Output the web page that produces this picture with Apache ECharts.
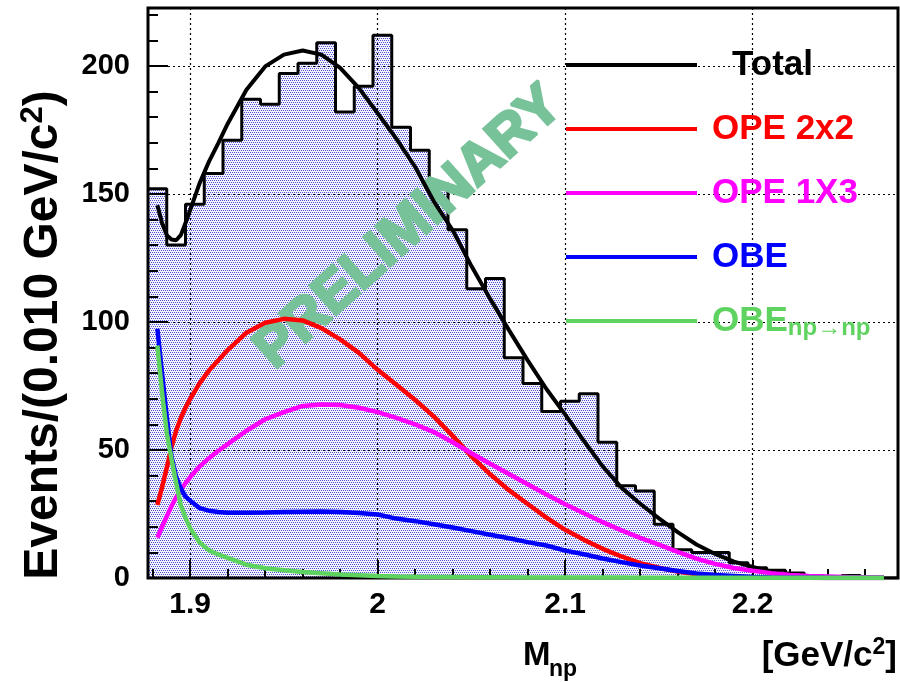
<!DOCTYPE html>
<html>
<head>
<meta charset="utf-8">
<title>M_np spectrum</title>
<script src="https://cdn.jsdelivr.net/npm/echarts@6/dist/echarts.min.js"></script>
<style>
  html, body { margin: 0; padding: 0; background: #ffffff; }
  #chart { width: 900px; height: 682px; }
</style>
</head>
<body>
<div id="chart"></div>
<script>
// Invariant mass M_np, 40 bins of 0.010 GeV/c^2 starting at the np threshold
const massLow = 1.8775;
const binWidth = 0.010;
const eventCounts = [152, 130, 146, 158, 171, 187, 185, 197, 201, 209,
                     182, 192, 212, 176, 167, 154, 136, 113, 117, 86,
                     76, 65, 69, 72, 53, 36, 34, 21, 11, 10,
                     10, 6, 4, 3, 2, 1, 0, 1, 0, 0];

// Model curves sampled in M_np (GeV/c^2)
const curveMass = [1.8825, 1.885, 1.8875, 1.89, 1.8925, 1.895, 1.8975, 1.90, 1.905, 1.91, 1.915, 1.92,
                   1.93, 1.94, 1.95, 1.96, 1.97, 1.98, 1.99, 2.00,
                   2.01, 2.02, 2.03, 2.04, 2.05, 2.06, 2.07, 2.08, 2.09, 2.10,
                   2.11, 2.12, 2.13, 2.14, 2.15, 2.16, 2.17, 2.18, 2.19, 2.20,
                   2.21, 2.22, 2.23, 2.24, 2.25, 2.26, 2.27];
const totalFit = [145.6, 138.6, 133.9, 132.2, 131.9, 133.9, 138.6, 143.7, 154.1, 162.6, 169.8, 177.4,
                  190.7, 199.8, 204.4, 206.0, 204.4, 199.2, 191.3, 181.5,
                  171.5, 160.5, 147.0, 135.8, 121.8, 109.0, 96.8, 85.0, 73.8, 63.8,
                  53.5, 43.6, 35.3, 29.0, 23.3, 17.9, 13.1, 9.4, 6.4, 4.3,
                  2.4, 1.3, 0.7, 0.4, 0.2, 0.1, 0.1];
const ope2x2 = [28.5, 35.5, 43.0, 51.0, 57.5, 62.5, 66.5, 70.0, 76.0, 81.0, 85.0, 89.0,
                95.8, 99.7, 101.2, 100.6, 97.6, 93.2, 87.9, 81.3,
                75.5, 69.5, 63.0, 55.5, 47.5, 40.5, 34.3, 28.9, 23.6, 18.8,
                14.9, 11.4, 8.4, 5.8, 4.0, 2.5, 1.5, 0.8, 0.4, 0.2,
                0.1, 0.1, 0.05, 0, 0, 0, 0];
const ope1x3 = [15.8, 20.0, 24.0, 28.0, 31.5, 34.5, 37.0, 39.4, 43.5, 46.8, 49.7, 52.3,
                57.5, 62.0, 64.8, 67.2, 67.8, 67.6, 66.5, 64.8,
                62.5, 60.0, 57.0, 53.0, 48.7, 44.6, 40.6, 36.6, 32.6, 28.8,
                25.3, 21.8, 18.6, 15.7, 13.0, 10.2, 7.6, 5.5, 3.9, 2.8,
                1.9, 1.2, 0.8, 0.6, 0.4, 0.3, 0.2];
const obe = [97.3, 80.0, 63.0, 47.5, 39.5, 35.0, 31.8, 30.2, 27.3, 26.3, 25.8, 25.5,
             25.5, 25.6, 25.8, 25.9, 26.0, 25.8, 25.4, 24.8,
             23.2, 22.2, 21.0, 19.7, 18.3, 16.9, 15.5, 14.0, 12.7, 10.7,
             9.3, 7.6, 6.2, 4.9, 3.8, 2.7, 1.8, 1.2, 0.8, 0.4,
             0.2, 0.1, 0.1, 0, 0, 0, 0];
const obeNpNp = [90.8, 72.3, 56.8, 46.5, 37.2, 28.4, 23.6, 19.4, 13.9, 10.8, 9.2, 7.9,
                 5.2, 3.8, 3.0, 2.3, 1.9, 1.4, 1.1, 0.8,
                 0.6, 0.5, 0.4, 0.35, 0.3, 0.3, 0.25, 0.2, 0.2, 0.2,
                 0.2, 0.15, 0.15, 0.1, 0.1, 0.1, 0.1, 0.1, 0.1, 0.1,
                 0.1, 0.1, 0.1, 0.1, 0.1, 0.1, 0.1];

// Tick positions
const xMajorTicks = [1.9, 2.0, 2.1, 2.2];
const xMinorTicks = [1.88, 1.92, 1.94, 1.96, 1.98, 2.02, 2.04, 2.06, 2.08,
                     2.12, 2.14, 2.16, 2.18, 2.22, 2.24, 2.26];
const yMajorTicks = [0, 50, 100, 150, 200];
const yMinorTicks = [10, 20, 30, 40, 60, 70, 80, 90, 110, 120, 130, 140,
                     160, 170, 180, 190, 210, 220];
const yMax = 222.6;

const FONT = '"Liberation Sans", Arial, Helvetica, sans-serif';
const massHigh = massLow + eventCounts.length * binWidth;

// Histogram as a stepped outline: each bin's left edge carries its content
const histData = eventCounts.map((c, i) => [massLow + i * binWidth, c]);
histData.push([massHigh, eventCounts[eventCounts.length - 1]]);

function pairUp(values) {
  return curveMass.map((m, i) => [m, values[i]]);
}

// Fine blue dot fill for the histogram body
function dotPattern() {
  const c = document.createElement('canvas');
  c.width = 4; c.height = 4;
  const g = c.getContext('2d');
  g.fillStyle = '#f3f3fc';
  g.fillRect(0, 0, 4, 4);
  g.fillStyle = '#4c4cd8';
  g.fillRect(0, 0, 1, 1);
  g.fillRect(2, 0, 1, 1);
  g.fillRect(1, 2, 1, 1);
  g.fillRect(3, 2, 1, 1);
  return c;
}

const tickStyle = { color: '#000', width: 2 };
const labelStyle = { fontSize: 29, fontWeight: 'bold', fontFamily: FONT, color: '#000' };

const curveSeries = [
  { name: 'Total', data: totalFit, color: '#000000', width: 4 },
  { name: 'OPE 2x2', data: ope2x2, color: '#ff0000', width: 4.5 },
  { name: 'OPE 1X3', data: ope1x3, color: '#ff00ff', width: 4.5 },
  { name: 'OBE', data: obe, color: '#0000ff', width: 4.5 },
  { name: 'OBE np\u2192np', data: obeNpNp, color: '#5fd35f', width: 4.5 }
].map(s => ({
  type: 'line',
  name: s.name,
  data: pairUp(s.data),
  color: s.color,
  symbol: 'none',
  smooth: false,
  z: 4,
  silent: true,
  lineStyle: { color: s.color, width: s.width }
}));

const chart = echarts.init(document.getElementById('chart'), null, { renderer: 'canvas' });

chart.setOption({
  animation: false,
  backgroundColor: '#ffffff',
  grid: {
    left: 148, right: 2, top: 8, bottom: 104,
    show: true, borderColor: '#000', borderWidth: 3,
    backgroundColor: 'transparent', z: 3
  },
  xAxis: [
    {
      type: 'value', min: massLow, max: massHigh, position: 'bottom', z: 2,
      axisLine: { show: false },
      axisTick: { inside: true, length: 18, customValues: xMajorTicks, lineStyle: tickStyle },
      axisLabel: Object.assign({ customValues: xMajorTicks, margin: 12 }, labelStyle, { fontSize: 30 }),
      splitLine: { show: true, lineStyle: { color: '#000', width: 1.2, type: [2, 3] } }
    },
    {
      type: 'value', min: massLow, max: massHigh, position: 'bottom', z: 2,
      axisLine: { show: false },
      axisTick: { inside: true, length: 9, customValues: xMinorTicks, lineStyle: tickStyle },
      axisLabel: { show: false },
      splitLine: { show: false }
    }
  ],
  yAxis: [
    {
      type: 'value', min: 0, max: yMax, position: 'left', z: 2,
      axisLine: { show: false },
      axisTick: { inside: true, length: 20, customValues: yMajorTicks, lineStyle: tickStyle },
      axisLabel: Object.assign({ customValues: yMajorTicks, margin: 18 }, labelStyle),
      splitLine: { show: true, lineStyle: { color: '#000', width: 1.2, type: [2, 3] } }
    },
    {
      type: 'value', min: 0, max: yMax, position: 'left', z: 2,
      axisLine: { show: false },
      axisTick: { inside: true, length: 10, customValues: yMinorTicks, lineStyle: tickStyle },
      axisLabel: { show: false },
      splitLine: { show: false }
    }
  ],
  legend: {
    data: [
      { name: 'Total', textStyle: { color: '#000000' } },
      { name: 'OPE 2x2', textStyle: { color: '#ff0000' } },
      { name: 'OPE 1X3', textStyle: { color: '#ff00ff' } },
      { name: 'OBE', textStyle: { color: '#0000ff' } },
      { name: 'OBE np\u2192np', textStyle: { color: '#5fd35f' } }
    ],
    orient: 'vertical',
    left: 566, top: 45, padding: 0,
    itemGap: 24, itemWidth: 131, itemHeight: 4,
    icon: 'rect', selectedMode: false, z: 5,
    formatter: function (name) {
      if (name === 'Total') return '{t|Total}';
      if (name === 'OBE np\u2192np') return '{n|OBE}{sub|np\u2192np}';
      return '{n|' + name + '}';
    },
    textStyle: {
      fontFamily: FONT, fontWeight: 'bold', fontSize: 35, lineHeight: 40,
      rich: {
        t: { fontSize: 35, lineHeight: 40, padding: [0, 0, 0, 30] },
        n: { fontSize: 35, lineHeight: 40, padding: [0, 0, 0, 10] },
        sub: { fontSize: 24, lineHeight: 24, padding: [15, 0, 0, 0] }
      }
    }
  },
  graphic: [
    {
      type: 'text', x: 44, y: 335, rotation: Math.PI / 2, z: 5, silent: true,
      style: {
        text: '{a|Events/(0.010 GeV/c}{s|2}{a|)}',
        align: 'center', verticalAlign: 'middle',
        fill: '#000',
        rich: {
          a: { fontFamily: FONT, fontWeight: 'bold', fontSize: 48, lineHeight: 52, fill: '#000' },
          s: { fontFamily: FONT, fontWeight: 'bold', fontSize: 31, lineHeight: 31, verticalAlign: 'top', fill: '#000' }
        }
      }
    },
    {
      type: 'text', x: 523, y: 656, z: 5, silent: true,
      style: { text: 'M', fontFamily: FONT, fontWeight: 'bold', fontSize: 33, fill: '#000',
               align: 'left', verticalAlign: 'middle' }
    },
    {
      type: 'text', x: 549, y: 670, z: 5, silent: true,
      style: { text: 'np', fontFamily: FONT, fontWeight: 'bold', fontSize: 23, fill: '#000',
               align: 'left', verticalAlign: 'middle' }
    },
    {
      type: 'text', x: 897, y: 656, z: 5, silent: true,
      style: {
        text: '{a|[GeV/c}{s|2}{a|]}',
        align: 'right', verticalAlign: 'middle', fill: '#000',
        rich: {
          a: { fontFamily: FONT, fontWeight: 'bold', fontSize: 35, lineHeight: 40, fill: '#000' },
          s: { fontFamily: FONT, fontWeight: 'bold', fontSize: 23, lineHeight: 23, verticalAlign: 'top', fill: '#000' }
        }
      }
    },
    {
      type: 'text', x: 409, y: 228, rotation: 42 * Math.PI / 180, z: 3, silent: true,
      style: {
        text: 'PRELIMINARY', fontFamily: FONT, fontWeight: 'bold', fontSize: 57,
        fill: '#78c29a', stroke: '#78c29a', lineWidth: 3,
        align: 'center', verticalAlign: 'middle'
      }
    }
  ],
  series: [
    {
      type: 'line',
      name: 'Data',
      data: histData,
      step: 'end',
      symbol: 'none',
      z: 1,
      silent: true,
      lineStyle: { color: '#000', width: 3 },
      areaStyle: { color: { image: dotPattern(), repeat: 'repeat' }, opacity: 1 }
    }
  ].concat(curveSeries)
});
</script>
</body>
</html>
